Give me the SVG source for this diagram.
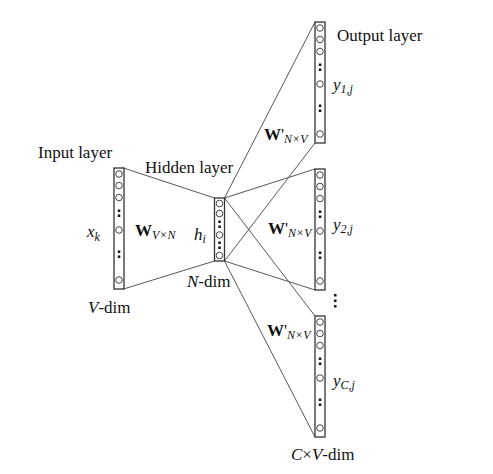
<svg xmlns="http://www.w3.org/2000/svg" width="493" height="474" viewBox="0 0 493 474">
<style>
.col{fill:#fff;stroke:#333;stroke-width:1.3}
.n{fill:#fff;stroke:#444;stroke-width:1}
.d{fill:#111}
.ln{stroke:#444;stroke-width:0.9;fill:none}
text{font-family:"Liberation Serif","Times New Roman",serif;fill:#111}
.t{font-size:17px}
.i{font-style:italic}
.b{font-weight:bold}
.s{font-size:12px;font-style:italic}
</style>
<defs>
<g id="column">
<rect class="col" x="0" y="0" width="10" height="121"/>
<circle class="n" cx="5" cy="6" r="3.3"/>
<circle class="n" cx="5" cy="17.5" r="3.3"/>
<circle class="n" cx="5" cy="29.5" r="3.3"/>
<rect class="d" x="3.8" y="41.5" width="2.5" height="2.5"/>
<rect class="d" x="3.8" y="46.5" width="2.5" height="2.5"/>
<circle class="n" cx="5" cy="62" r="3.3"/>
<rect class="d" x="3.8" y="82.5" width="2.5" height="2.5"/>
<rect class="d" x="3.8" y="87.5" width="2.5" height="2.5"/>
<circle class="n" cx="5" cy="112" r="3.3"/>
</g>
</defs>
<rect width="493" height="474" fill="#fff"/>
<g id="connectors">
<line class="ln" x1="123.5" y1="168" x2="214.5" y2="198"/>
<line class="ln" x1="123.5" y1="289" x2="214.5" y2="261"/>
<line class="ln" x1="224.5" y1="198" x2="315" y2="22"/>
<line class="ln" x1="224.5" y1="261" x2="315" y2="143"/>
<line class="ln" x1="224.5" y1="198" x2="315" y2="169"/>
<line class="ln" x1="224.5" y1="261" x2="315" y2="290"/>
<line class="ln" x1="224.5" y1="198" x2="315" y2="316"/>
<line class="ln" x1="224.5" y1="261" x2="315" y2="437"/>
</g>
<g id="input-layer">
<use href="#column" x="114" y="168"/>
<text class="t" x="38" y="158">Input layer</text>
<text class="t i" x="87" y="237">x<tspan class="s" dy="4">k</tspan></text>
<text class="t" x="88" y="313"><tspan class="i">V</tspan>-dim</text>
</g>
<g id="weights-in">
<text class="t b" x="135" y="236">W<tspan class="s" font-weight="normal" dy="3">V×N</tspan></text>
</g>
<g id="hidden-layer">
<rect class="col" x="214.5" y="198" width="10" height="63"/>
<circle class="n" cx="219.5" cy="203.5" r="3.3"/>
<circle class="n" cx="219.5" cy="213.5" r="3.3"/>
<rect class="d" x="218.3" y="220.5" width="2.5" height="2.5"/>
<rect class="d" x="218.3" y="225.5" width="2.5" height="2.5"/>
<circle class="n" cx="219.5" cy="235" r="3.3"/>
<rect class="d" x="218.3" y="241.5" width="2.5" height="2.5"/>
<rect class="d" x="218.3" y="246.5" width="2.5" height="2.5"/>
<circle class="n" cx="219.5" cy="255.5" r="3.3"/>
<text class="t" x="145" y="173">Hidden layer</text>
<text class="t i" x="194" y="240">h<tspan class="s" dy="3">i</tspan></text>
<text class="t" x="187" y="287"><tspan class="i">N</tspan>-dim</text>
</g>
<g id="output-1">
<use href="#column" x="315" y="22"/>
<text class="t" x="337" y="41">Output layer</text>
<text class="t i" x="333" y="90">y<tspan class="s" dy="3">1,j</tspan></text>
<text class="t b" x="264" y="140">W<tspan font-weight="normal">'</tspan><tspan class="s" font-weight="normal" dy="3">N×V</tspan></text>
</g>
<g id="output-2">
<use href="#column" x="315" y="169"/>
<text class="t i" x="333" y="230">y<tspan class="s" dy="3">2,j</tspan></text>
<text class="t b" x="268" y="234">W<tspan font-weight="normal">'</tspan><tspan class="s" font-weight="normal" dy="3">N×V</tspan></text>
</g>
<g id="ellipsis">
<rect class="d" x="334" y="294" width="2.5" height="2.5"/>
<rect class="d" x="334" y="299.5" width="2.5" height="2.5"/>
<rect class="d" x="334" y="305" width="2.5" height="2.5"/>
</g>
<g id="output-3">
<use href="#column" x="315" y="316"/>
<text class="t i" x="333" y="386">y<tspan class="s" dy="3">C,j</tspan></text>
<text class="t b" x="267" y="336">W<tspan font-weight="normal">'</tspan><tspan class="s" font-weight="normal" dy="3">N×V</tspan></text>
<text class="t" x="291" y="460"><tspan class="i">C</tspan>×<tspan class="i">V</tspan>-dim</text>
</g>
</svg>
